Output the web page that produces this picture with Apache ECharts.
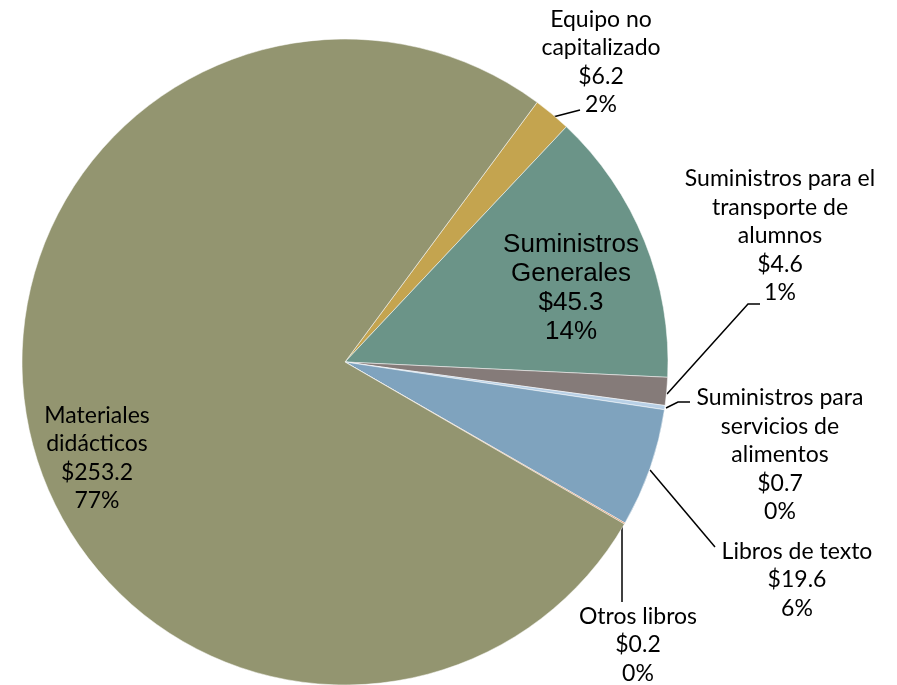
<!DOCTYPE html>
<html>
<head>
<meta charset="utf-8">
<script src="https://cdn.jsdelivr.net/npm/echarts@6/dist/echarts.min.js"></script>
<style>html,body{margin:0;padding:0;background:#fff}#c{width:897px;height:685px}</style>
</head>
<body>
<div id="c"></div>
<script>
const categories = [
  "Equipo no\ncapitalizado",
  "Suministros\nGenerales",
  "Suministros para el\ntransporte de\nalumnos",
  "Suministros para\nservicios de\nalimentos",
  "Libros de texto",
  "Otros libros",
  "Materiales\ndidácticos"
];
const values = [6.2, 45.3, 4.6, 0.7, 19.6, 0.2, 253.2];
const colors = ["#C4A44F", "#6B9488", "#857B79", "#B8D0E6", "#7FA3BE", "#D9824A", "#939570"];

// label anchor positions (style only)
const labelPos = [
  {x: 601, y: 62, lines: [[553,117],[580,110]]},
  {x: 571, y: 288},
  {x: 780, y: 236, lines: [[667,394],[748,304],[760,304]]},
  {x: 780, y: 455, lines: [[666,408],[678,402],[690,402]]},
  {x: 797, y: 580, lines: [[650,470],[715,547]]},
  {x: 638, y: 645, lines: [[622,526],[622,602]]},
  {x: 97, y: 458}
];

const chart = echarts.init(document.getElementById('c'));
const font = "Lato, 'Open Sans', sans-serif";
chart.setOption({
  animation: false,
  series: [{
    type: 'pie',
    center: [345, 362],
    radius: 323,
    startAngle: 53.5,
    clockwise: true,
    percentPrecision: 0,
    avoidLabelOverlap: false,
    itemStyle: {borderColor: '#fff', borderWidth: 0.5},
    label: {
      show: true,
      formatter: p => p.name + '\n$' + p.value + '\n' + p.percent + '%',
      color: '#000',
      fontFamily: font,
      fontSize: 23,
      lineHeight: 28.5,
      align: 'center'
    },
    labelLine: {show: true, lineStyle: {color: '#000', width: 1.5}},
    labelLayout: function (params) {
      const lp = labelPos[params.dataIndex];
      const r = {x: lp.x, y: lp.y, align: 'center', verticalAlign: 'middle'};
      if (lp.lines) r.labelLinePoints = lp.lines;
      return r;
    },
    data: categories.map((n, i) => {
      const d = {name: n, value: values[i], itemStyle: {color: colors[i]}};
      if (i === 1) {
        d.label = {fontFamily: "'Liberation Sans', Arial, sans-serif", fontSize: 26, lineHeight: 29};
        d.labelLine = {show: false};
      }
      if (i === 6) {
        d.labelLine = {show: false};
      }
      return d;
    })
  }]
});
</script>
</body>
</html>
